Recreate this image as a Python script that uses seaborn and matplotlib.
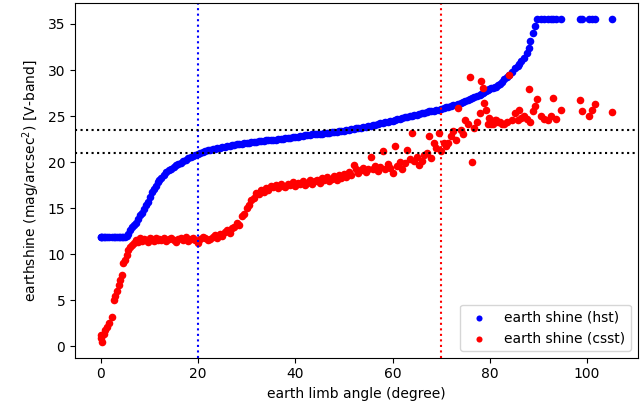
import matplotlib
matplotlib.use("Agg")
import matplotlib.pyplot as plt
import seaborn as sns
import pandas as pd

# earth limb angle of each observation (degree)
limb_angle = [
    0.0, 0.1, 0.3, 0.6, 1.0, 1.4, 1.8, 2.3, 2.7, 3.0, 3.4, 3.7, 4.0, 4.4, 4.7, 5.1,
    5.4, 5.7, 6.1, 6.5, 6.9, 7.3, 7.7, 8.1, 8.5, 8.9, 9.3, 9.7, 10.1, 10.5, 10.9, 11.3, 11.7, 12.1,
    12.5, 13.0, 13.5, 14.0, 14.5, 15.0, 15.5, 16.0, 16.5, 17.0, 17.5, 18.0, 18.5, 19.0, 19.5, 20.0,
    20.5, 21.0, 21.5, 22.0, 22.5,
    23.0, 23.5, 24.0, 24.5, 25.0, 25.5, 26.0, 26.5, 27.0, 27.5, 28.0, 28.5, 29.0, 29.5, 30.0, 30.5,
    31.0, 31.5, 32.0, 32.5, 33.0,
    33.5, 34.0, 34.5, 35.0, 35.5, 36.0, 36.5, 37.0, 37.5, 38.0, 38.5, 39.0, 39.5, 40.0, 40.5, 41.0,
    41.5, 42.0, 42.5, 43.0, 43.5, 44.0, 44.5, 45.0, 45.5, 46.0, 46.5, 47.0, 47.5, 48.0, 48.5, 49.0,
    49.5, 50.0, 50.5, 51.0, 51.5, 52.0, 52.5, 53.0, 53.5, 54.0, 54.5, 55.0,
    55.5, 56.0, 56.5, 57.0, 57.5, 58.0, 58.5, 59.0, 59.5, 60.0, 60.5, 61.0, 61.5, 62.0, 62.5, 63.0,
    63.5, 64.0, 64.5, 65.0, 65.5, 66.0, 66.5, 67.0, 67.5, 68.0, 68.5, 69.0, 69.5, 70.0, 70.5, 71.0,
    71.5, 72.0, 72.5, 73.0, 73.5, 74.0, 74.5, 75.0,
    75.5, 76.0, 76.3, 76.8, 77.3, 77.9, 78.2, 78.5, 78.9, 79.3, 79.6, 79.9, 80.3, 80.6, 81.0, 81.3,
    81.7, 82.0, 82.5, 83.0, 83.5, 84.0, 84.6, 85.2, 85.7, 86.1, 86.4, 87.1, 87.6, 88.0, 88.3, 88.9,
    89.3,
    89.8, 90.5, 91.2, 91.9, 92.6, 93.0, 93.6, 94.6, 98.5, 98.9, 100.4, 101.1, 101.7, 105.2,
]

# earthshine surface brightness, HST model (mag/arcsec^2)
hst_shine = [
    11.85, 11.85, 11.85, 11.85, 11.85, 11.85, 11.85, 11.85, 11.85, 11.85, 11.85, 11.85, 11.85, 11.85,
    11.85, 11.85,
    11.95, 12.2, 12.6, 12.9, 13.2, 13.4, 13.8, 14.2, 14.5, 14.9, 15.3, 15.7, 16.2, 16.7, 17.1, 17.4,
    17.8, 18.1,
    18.3, 18.6, 18.9, 19.1, 19.3, 19.5, 19.65, 19.8, 19.95, 20.1, 20.25, 20.4, 20.55, 20.7, 20.8, 20.9,
    21.0, 21.1, 21.2, 21.3, 21.35,
    21.4, 21.45, 21.5, 21.55, 21.6, 21.65, 21.7, 21.75, 21.85, 21.9, 21.95, 22.0, 22.0, 22.05, 22.1,
    22.1, 22.15, 22.2, 22.2, 22.25, 22.3,
    22.3, 22.35, 22.35, 22.4, 22.4, 22.45, 22.5, 22.5, 22.55, 22.6, 22.6, 22.65, 22.7, 22.75, 22.75,
    22.8, 22.85, 22.9, 22.9, 22.95, 23.0, 23.0, 23.05, 23.1, 23.1, 23.15, 23.2, 23.2, 23.25, 23.3,
    23.3, 23.35, 23.4, 23.4, 23.45, 23.5, 23.55, 23.6, 23.65, 23.7, 23.75, 23.8, 23.85, 23.9,
    23.95, 24.0, 24.05, 24.1, 24.2, 24.25, 24.3, 24.4, 24.45, 24.5, 24.55, 24.65, 24.7, 24.8, 24.85,
    24.9, 25.0, 25.05, 25.1, 25.15, 25.2, 25.3, 25.35, 25.4, 25.5, 25.55, 25.6, 25.65, 25.7, 25.8,
    25.85, 25.95, 26.0, 26.1, 26.15, 26.25, 26.3, 26.4, 26.5, 26.6,
    26.7, 26.85, 26.95, 27.1, 27.2, 27.3, 27.4, 27.5, 27.6, 27.7, 27.8, 27.9, 28.0, 28.1, 28.15, 28.2,
    28.35, 28.5, 28.7, 29.0, 29.2, 29.5, 29.8, 30.2, 30.4, 30.7, 31.0, 31.3, 31.8, 32.4, 33.1, 34.0,
    34.8,
    35.5, 35.5, 35.5, 35.5, 35.5, 35.5, 35.5, 35.5, 35.5, 35.5, 35.5, 35.5, 35.5, 35.5,
]

# earthshine surface brightness, CSST model (mag/arcsec^2)
csst_shine = [
    1.2, 0.9, 0.5, 1.3, 1.75, 2.1, 2.5, 3.2, 5.0, 5.4, 6.0, 6.6, 7.2, 7.7, 9.0, 9.4,
    9.9, 10.5, 10.8, 11.0, 11.2, 11.5, 11.3, 11.7, 11.4, 11.6, 11.5, 11.3, 11.7, 11.6, 11.4, 11.8,
    11.5, 11.6,
    11.5, 11.7, 11.4, 11.6, 11.8, 11.5, 11.3, 11.6, 11.7, 11.5, 11.9, 11.4, 11.6, 11.8, 11.5, 11.2,
    11.6, 11.9, 11.7, 11.5, 11.6,
    11.9, 12.1, 11.8, 12.2, 12.0, 12.4, 12.6, 12.3, 12.8, 13.0, 13.4, 13.2, 14.1, 14.4, 15.0, 15.3,
    15.9, 16.1, 16.6, 16.5, 17.0,
    16.8, 17.2, 17.0, 17.4, 17.3, 17.5, 17.2, 17.6, 17.4, 17.3, 17.6, 17.5, 17.8, 17.4, 17.7, 17.6,
    17.9, 17.5, 17.7, 18.0, 17.6, 17.9, 18.1, 17.7, 18.3, 18.0, 18.4, 17.9, 18.2, 18.5, 18.1, 18.6,
    18.3, 18.7, 18.4, 18.9, 18.6, 19.7, 19.3, 18.8, 19.1, 19.4, 18.9, 19.2,
    20.6, 19.2, 19.6, 19.0, 19.5, 21.2, 19.3, 19.8, 19.4, 18.8, 21.7, 19.6, 20.0, 19.2, 19.9, 21.35,
    20.3, 23.2, 20.1, 20.5, 19.7, 20.1, 20.8, 21.0, 22.8, 20.4, 22.1, 21.5, 23.2, 21.2, 22.1, 21.7,
    22.1, 22.8, 23.35, 22.4, 25.9, 23.5, 23.0, 24.6,
    24.1, 29.2, 20.0, 23.7, 24.3, 25.35, 28.8, 28.1, 26.4, 25.7, 24.1, 24.8, 24.1, 24.1, 24.6, 24.6,
    24.4, 24.4, 24.1, 24.1, 24.3, 29.5, 24.6, 25.3, 24.6, 25.7, 24.8, 25.0, 24.7, 27.9, 24.3, 25.5,
    26.1,
    26.8, 25.0, 24.7, 24.6, 25.0, 27.0, 24.7, 25.7, 26.7, 25.6, 25.0, 25.7, 26.3, 25.4,
]

shine = pd.DataFrame({"angle": limb_angle, "hst": hst_shine, "csst": csst_shine})

fig = plt.figure(figsize=(6.44, 4.11), dpi=100)
ax = fig.add_axes([0.1165, 0.1297, 0.8742, 0.8623])

sns.scatterplot(data=shine, x="angle", y="hst", color="blue", s=30, linewidth=0,
                label="earth shine (hst)", ax=ax)
sns.scatterplot(data=shine, x="angle", y="csst", color="red", s=30, linewidth=0,
                label="earth shine (csst)", ax=ax)

ax.axvline(20, color="blue", linestyle=":")
ax.axvline(70, color="red", linestyle=":")
ax.axhline(23.5, color="black", linestyle=":")
ax.axhline(21.0, color="black", linestyle=":")

ax.set_xlabel("earth limb angle (degree)")
ax.set_ylabel("earthshine (mag/arcsec$^2$) [V-band]")
ax.legend(loc="lower right", markerscale=0.8)

fig.savefig("out.png", dpi=100)
